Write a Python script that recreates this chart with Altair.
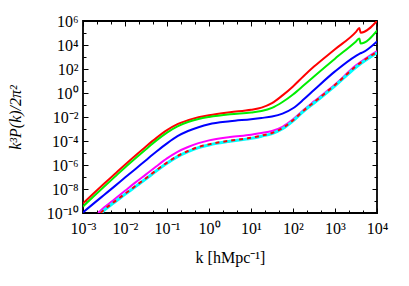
import altair as alt
import pandas as pd

# ---- data (log10 k, log10 k^3 P/2pi^2) ----
red_logk = [-3, -2.75, -2.5, -2.25, -2, -1.75, -1.5, -1.25, -1, -0.75, -0.5, -0.25, 0, 0.5, 1, 1.25, 1.5, 1.75, 2, 2.25, 2.5, 3, 3.5, 3.58, 3.61, 4]
red_logp = [-9.2, -8.38, -7.57, -6.77, -5.97, -5.2, -4.45, -3.74, -3.1, -2.6, -2.27, -2.02, -1.85, -1.6, -1.4, -1.22, -0.85, -0.2, 0.55, 1.4, 2.2, 3.65, 5.1, 5.42, 5.02, 6.0]

green_logk = [-3, -2.75, -2.5, -2.25, -2, -1.75, -1.5, -1.25, -1, -0.75, -0.5, -0.25, 0, 0.5, 1, 1.25, 1.5, 1.75, 2, 2.25, 2.5, 3, 3.5, 3.58, 3.61, 4]
green_logp = [-9.45, -8.63, -7.82, -7.01, -6.2, -5.43, -4.68, -3.95, -3.3, -2.78, -2.42, -2.17, -2.0, -1.77, -1.62, -1.5, -1.24, -0.75, -0.12, 0.62, 1.38, 2.86, 4.3, 4.55, 4.12, 5.2]

blue_logk = [-3, -2.75, -2.5, -2.25, -2, -1.75, -1.5, -1.25, -1, -0.75, -0.5, -0.25, 0, 0.5, 1, 1.25, 1.5, 1.75, 2, 2.25, 2.5, 3, 3.5, 3.59, 3.66, 4]
blue_logp = [-9.95, -9.22, -8.5, -7.78, -7.05, -6.33, -5.6, -4.88, -4.2, -3.6, -3.17, -2.85, -2.6, -2.35, -2.18, -2.08, -1.96, -1.72, -1.27, -0.55, 0.25, 1.8, 3.1, 3.28, 3.38, 4.3]

magenta_logk = [-2.64, -2.5, -2.25, -2, -1.75, -1.5, -1.25, -1, -0.75, -0.5, -0.25, 0, 0.5, 1, 1.25, 1.5, 1.75, 2, 2.25, 2.5, 3, 3.5, 4]
magenta_logp = [-10, -9.55, -8.85, -8.15, -7.45, -6.78, -6.1, -5.45, -4.9, -4.5, -4.18, -3.95, -3.67, -3.47, -3.33, -3.16, -2.82, -2.2, -1.42, -0.7, 0.7, 2.3, 3.5]

cyan_logk = [-2.57, -2.5, -2.25, -2, -1.75, -1.5, -1.25, -1, -0.75, -0.5, -0.25, 0, 0.5, 1, 1.25, 1.5, 1.75, 2, 2.25, 2.5, 3, 3.5, 4]
cyan_logp = [-10, -9.78, -9.1, -8.45, -7.8, -7.15, -6.48, -5.85, -5.3, -4.88, -4.55, -4.33, -4.02, -3.78, -3.6, -3.38, -2.98, -2.32, -1.52, -0.83, 0.6, 2.15, 3.35]

dash_logk = [-2.58, -2.5, -2.25, -2, -1.75, -1.5, -1.25, -1, -0.75, -0.5, -0.25, 0, 0.5, 1, 1.25, 1.5, 1.75, 2, 2.25, 2.5, 3, 3.5, 4]
dash_logp = [-10, -9.74, -9.05, -8.4, -7.75, -7.1, -6.43, -5.8, -5.25, -4.83, -4.5, -4.28, -3.97, -3.73, -3.55, -3.33, -2.93, -2.27, -1.47, -0.77, 0.67, 2.23, 3.42]

series_names = ["red", "green", "blue", "magenta"]
series_colors = ["#ff0000", "#00ee00", "#0000ff", "#ff00ff"]

x_label_vals = [1e-3, 1e-2, 1e-1, 1e0, 1e1, 1e2, 1e3, 1e4]
x_label_text = ["10⁻³", "10⁻²", "10⁻¹", "10⁰", "10¹", "10²", "10³", "10⁴"]
x_minor_vals = [10 ** (n + f) for n in range(-3, 4) for f in (1 / 3, 2 / 3)]

y_label_vals = [1e-10, 1e-8, 1e-6, 1e-4, 1e-2, 1e0, 1e2, 1e4, 1e6]
y_label_text = ["10⁻¹⁰", "10⁻⁸", "10⁻⁶", "10⁻⁴", "10⁻²", "10⁰", "10²", "10⁴", "10⁶"]
y_minor_vals = [1e-9, 1e-7, 1e-5, 1e-3, 1e-1, 1e1, 1e3, 1e5]


def frame(name, lk, lp, order):
    return pd.DataFrame({"k": [10 ** v for v in lk], "P": [10 ** v for v in lp],
                         "series": name, "order": order})


df_solid = pd.concat([
    frame("red", red_logk, red_logp, 0),
    frame("green", green_logk, green_logp, 1),
    frame("blue", blue_logk, blue_logp, 2),
    frame("magenta", magenta_logk, magenta_logp, 3),
])
df_cyan = frame("cyan", cyan_logk, cyan_logp, 4)
df_dash = frame("dash", dash_logk, dash_logp, 5)

FONT = "Liberation Serif"
xs = alt.Scale(type="log", domain=[1e-3, 1e4], nice=False)
ys = alt.Scale(type="log", domain=[1e-10, 1e6], nice=False)

x_expr = "[" + ",".join(f"'{t}'" for t in x_label_text) + "][round(log(datum.value)/LN10)+3]"
y_expr = "[" + ",".join(f"'{t}'" for t in y_label_text) + "][round((log(datum.value)/LN10+10)/2)]"

x_label_axis = alt.Axis(
    orient="bottom", values=x_label_vals, labelExpr=x_expr, ticks=False, domain=False, grid=False,
    labelFont=FONT, labelFontSize=16, labelColor="black", labelPadding=7, labelOverlap=False,
    labelFlush=False, title="k [hMpc⁻¹]", titleFont=FONT, titleFontSize=16,
    titleFontWeight="normal", titleColor="black", titlePadding=13,
)
y_label_axis = alt.Axis(
    orient="left", values=y_label_vals, labelExpr=y_expr, ticks=False, domain=False, grid=False,
    labelFont=FONT, labelFontSize=16, labelColor="black", labelPadding=5, labelOverlap=False,
    labelFlush=False, title="k³P(k)/2π²", titleFont=FONT, titleFontSize=16, titleFontStyle="italic",
    titleFontWeight="normal", titleColor="black", titlePadding=23,
)

solid = alt.Chart(df_solid).mark_line(strokeWidth=2, interpolate="monotone", clip=True).encode(
    x=alt.X("k:Q", scale=xs, axis=x_label_axis),
    y=alt.Y("P:Q", scale=ys, axis=y_label_axis),
    color=alt.Color("series:N", scale=alt.Scale(domain=series_names, range=series_colors), legend=None),
)

cyan = alt.Chart(df_cyan).mark_line(strokeWidth=3, color="#00ffff", interpolate="monotone", clip=True).encode(
    x=alt.X("k:Q", scale=xs, axis=None),
    y=alt.Y("P:Q", scale=ys, axis=None),
)

dash = alt.Chart(df_dash).mark_line(strokeWidth=2, color="#ff0000", strokeDash=[4, 4],
                                    interpolate="monotone", clip=True).encode(
    x=alt.X("k:Q", scale=xs, axis=None),
    y=alt.Y("P:Q", scale=ys, axis=None),
)


def tick_layer(x_orient, y_orient, xvals, yvals, size):
    xa = alt.Axis(orient=x_orient, values=xvals, labels=False, domain=False, grid=False, ticks=True,
                  tickSize=size, offset=-size, tickColor="black", tickWidth=1, title=None)
    ya = alt.Axis(orient=y_orient, values=yvals, labels=False, domain=False, grid=False, ticks=True,
                  tickSize=size, offset=-size, tickColor="black", tickWidth=1, title=None)
    return alt.Chart(df_cyan).mark_point(opacity=0).encode(
        x=alt.X("k:Q", scale=xs, axis=xa),
        y=alt.Y("P:Q", scale=ys, axis=ya),
    )


ticks = [
    tick_layer("bottom", "left", x_label_vals, y_label_vals, 5),
    tick_layer("bottom", "left", x_minor_vals, y_minor_vals, 3),
    tick_layer("top", "right", x_label_vals, y_label_vals, 5),
    tick_layer("top", "right", x_minor_vals, y_minor_vals, 3),
]

chart = alt.layer(solid, cyan, dash, *ticks).resolve_axis(
    x="independent", y="independent"
).properties(
    width=294, height=192,
    padding={"left": 75, "top": 13, "right": 20, "bottom": 55},
    autosize=alt.AutoSizeParams(type="none"),
    background="white",
).configure_view(stroke="black", strokeWidth=1.8)

chart.save("out.html", embed_options={"renderer": "svg", "actions": False})
